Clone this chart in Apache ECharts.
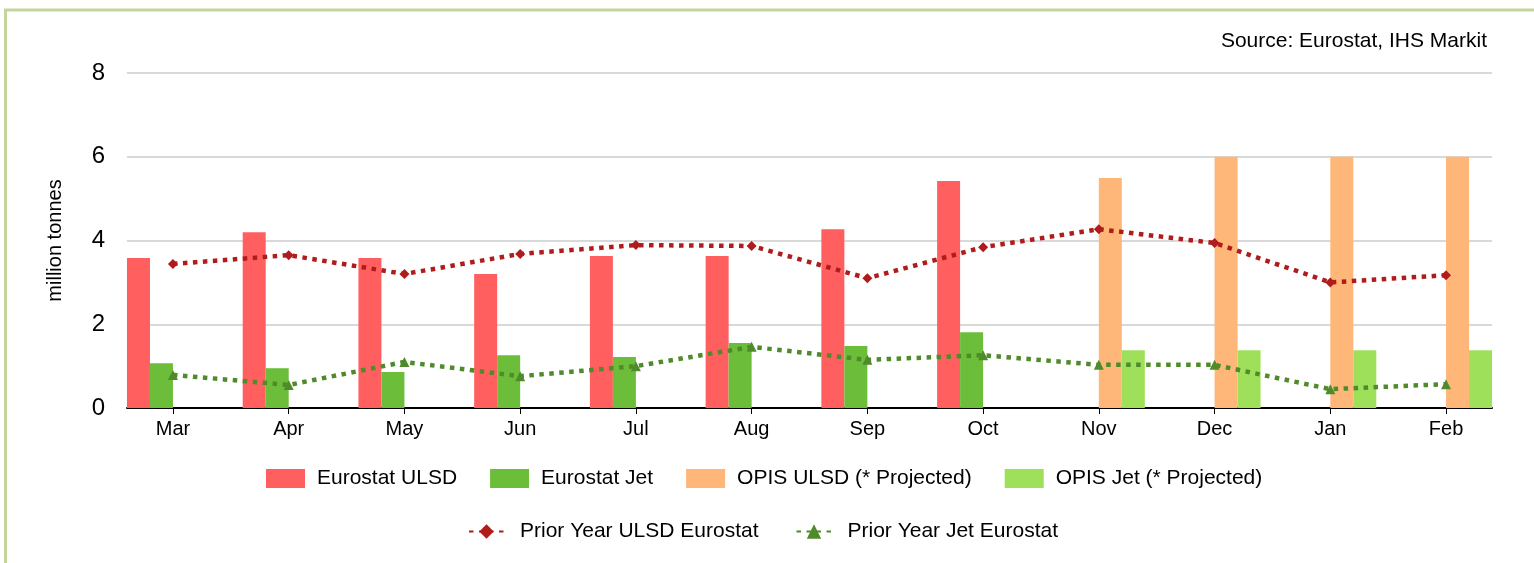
<!DOCTYPE html>
<html>
<head>
<meta charset="utf-8">
<script src="https://cdn.jsdelivr.net/npm/echarts@6/dist/echarts.min.js"></script>
<style>
html,body{margin:0;padding:0;background:#fff;}
#chart{width:1534px;height:563px;}
</style>
</head>
<body>
<div id="chart"></div>
<script>
var months = ['Mar','Apr','May','Jun','Jul','Aug','Sep','Oct','Nov','Dec','Jan','Feb'];
var eurostatUlsd = [3.58, 4.2, 3.58, 3.2, 3.63, 3.63, 4.27, 5.42, null, null, null, null];
var eurostatJet  = [1.07, 0.95, 0.86, 1.26, 1.22, 1.55, 1.48, 1.81, null, null, null, null];
var opisUlsd     = [null, null, null, null, null, null, null, null, 5.49, 6.0, 6.0, 6.0];
var opisJet      = [null, null, null, null, null, null, null, null, 1.38, 1.38, 1.38, 1.38];
var priorUlsd    = [3.44, 3.65, 3.2, 3.68, 3.89, 3.87, 3.1, 3.84, 4.27, 3.94, 3.0, 3.17];
var priorJet     = [0.79, 0.55, 1.1, 0.76, 1.0, 1.46, 1.15, 1.26, 1.03, 1.03, 0.45, 0.57];
var yTicks = {min: 0, max: 8, step: 2};

var font = 'Liberation Sans, Arial, sans-serif';
var chart = echarts.init(document.getElementById('chart'));

function barSeries(name, data, color) {
    return {
        name: name, type: 'bar', xAxisIndex: 1, yAxisIndex: 1,
        data: data, barWidth: 23, barGap: '0%',
        itemStyle: {color: color}
    };
}
function lineSeries(name, data, color, symbol) {
    return {
        name: name, type: 'line', xAxisIndex: 1, yAxisIndex: 1,
        data: data, symbol: symbol, symbolSize: 10, z: 5,
        lineStyle: {color: color, width: 4.5, type: [4.5, 5.5]},
        itemStyle: {color: color}
    };
}

var option = {
    animation: false,
    textStyle: {fontFamily: font},
    graphic: [{
        type: 'rect', silent: true,
        shape: {x: 5.5, y: 10, width: 1560, height: 620},
        style: {fill: 'none', stroke: '#C3D69B', lineWidth: 3}
    }],
    title: {
        text: 'Source: Eurostat, IHS Markit',
        right: 42, top: 26,
        textStyle: {fontSize: 21, fontWeight: 'normal', color: '#000', fontFamily: font}
    },
    legend: [{
        data: ['Eurostat ULSD', 'Eurostat Jet', 'OPIS ULSD (* Projected)', 'OPIS Jet (* Projected)'],
        left: 261, top: 463,
        itemWidth: 39, itemHeight: 19, itemGap: 33,
        icon: 'rect',
        textStyle: {fontSize: 21, color: '#000', fontFamily: font, padding: [0, 0, 0, 7]}
    }, {
        data: ['Prior Year ULSD Eurostat', 'Prior Year Jet Eurostat'],
        left: 463, top: 516,
        itemWidth: 35, itemHeight: 18, itemGap: 37,
        textStyle: {fontSize: 21, color: '#000', fontFamily: font, padding: [0, 0, 0, 11]}
    }],
    grid: [
        {left: 127, right: 42, top: 73, bottom: 155},
        {left: 115.1, right: 30.1, top: 73, bottom: 155}
    ],
    xAxis: [{
        type: 'category', gridIndex: 0, data: months,
        axisLine: {lineStyle: {color: '#000', width: 2}},
        axisTick: {show: false}, axisLabel: {show: false}, splitLine: {show: false}
    }, {
        type: 'category', gridIndex: 1, data: months,
        axisLine: {show: false},
        axisTick: {show: true, alignWithLabel: true, length: 6, lineStyle: {color: '#000', width: 1}},
        axisLabel: {fontSize: 20, color: '#000', margin: 11, fontFamily: font}
    }],
    yAxis: [{
        type: 'value', gridIndex: 0,
        min: yTicks.min, max: yTicks.max, interval: yTicks.step,
        name: 'million tonnes', nameLocation: 'middle', nameGap: 62,
        nameTextStyle: {fontSize: 20, color: '#000', fontFamily: font},
        axisLine: {show: false}, axisTick: {show: false},
        axisLabel: {fontSize: 24, color: '#000', margin: 22, fontFamily: font},
        splitLine: {lineStyle: {color: '#D9D9D9', width: 2}}
    }, {
        type: 'value', gridIndex: 1,
        min: yTicks.min, max: yTicks.max, interval: yTicks.step,
        show: false, splitLine: {show: false}
    }],
    series: [
        barSeries('Eurostat ULSD', eurostatUlsd, '#FF5F5F'),
        barSeries('Eurostat Jet', eurostatJet, '#6CBE3A'),
        barSeries('OPIS ULSD (* Projected)', opisUlsd, '#FFB679'),
        barSeries('OPIS Jet (* Projected)', opisJet, '#9FE05A'),
        lineSeries('Prior Year ULSD Eurostat', priorUlsd, '#B01C1C', 'diamond'),
        lineSeries('Prior Year Jet Eurostat', priorJet, '#4F8A2B', 'triangle')
    ]
};
chart.setOption(option);
</script>
</body>
</html>
